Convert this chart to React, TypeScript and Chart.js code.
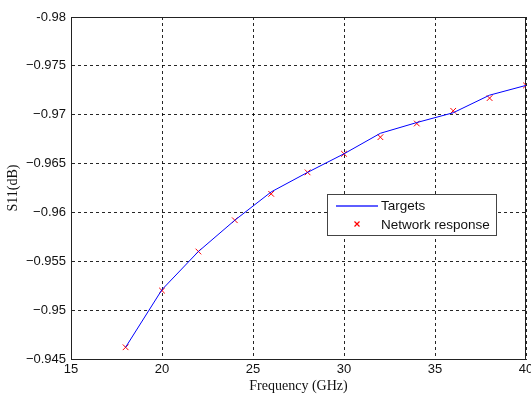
import React, { useEffect, useRef } from "react";
import { Chart, registerables } from "chart.js";

Chart.register(...registerables);

const freqs = [18, 20, 22, 24, 26, 28, 30, 32, 34, 36, 38, 40];
const targets = [-0.9462, -0.9521, -0.956, -0.9592, -0.9621, -0.9641, -0.966, -0.9681, -0.9692, -0.9702, -0.972, -0.973];
const network = [-0.9462, -0.952, -0.956, -0.9592, -0.9619, -0.9641, -0.966, -0.9677, -0.9691, -0.9704, -0.9717, -0.973];
const xTicks = [15, 20, 25, 30, 35, 40];
const yTicks = [-0.98, -0.975, -0.97, -0.965, -0.96, -0.955, -0.95, -0.945];
const yTickLabels = ["-0.98", "\u22120.975", "\u22120.97", "\u22120.965", "\u22120.96", "\u22120.955", "\u22120.95", "\u22120.945"];
const seriesNames = ["Targets", "Network response"];

const tickFont = { family: "'Liberation Sans', Arial, sans-serif", size: 13 };
const titleFont = { family: "'Liberation Serif', 'Times New Roman', serif", size: 14 };

const boxPlugin = {
  id: "boxAndLegend",
  beforeDatasetsDraw(chart: any) {
    const { ctx, chartArea: a } = chart;
    ctx.save();
    ctx.strokeStyle = "#222";
    ctx.lineWidth = 1;
    ctx.setLineDash([]);
    ctx.strokeRect(Math.round(a.left) + 0.5, Math.round(a.top) + 0.5, Math.round(a.right - a.left) - 1, Math.round(a.bottom - a.top));
    ctx.restore();
  },
  afterDatasetsDraw(chart: any) {
    const { ctx, chartArea: a } = chart;
    const x0 = Math.round(a.left) + 256;
    const y0 = Math.round(a.top) + 177;
    const w = 169;
    const h = 41;
    ctx.save();
    ctx.setLineDash([]);
    ctx.fillStyle = "#ffffff";
    ctx.fillRect(x0, y0, w, h);
    ctx.strokeStyle = "#444444";
    ctx.lineWidth = 1;
    ctx.strokeRect(x0 + 0.5, y0 + 0.5, w, h);
    ctx.beginPath();
    ctx.strokeStyle = "rgb(40,40,255)";
    ctx.lineWidth = 1.5;
    ctx.moveTo(x0 + 9, y0 + 12);
    ctx.lineTo(x0 + 51, y0 + 12);
    ctx.stroke();
    ctx.beginPath();
    ctx.strokeStyle = "#ff0000";
    ctx.lineWidth = 1.2;
    const cx = x0 + 30, cy = y0 + 30;
    ctx.moveTo(cx - 2.5, cy - 2.5);
    ctx.lineTo(cx + 2.5, cy + 2.5);
    ctx.moveTo(cx + 2.5, cy - 2.5);
    ctx.lineTo(cx - 2.5, cy + 2.5);
    ctx.stroke();
    ctx.fillStyle = "#111111";
    ctx.font = "13.5px 'Liberation Sans', Arial, sans-serif";
    ctx.textBaseline = "middle";
    ctx.textAlign = "left";
    ctx.fillText(seriesNames[0], x0 + 54, y0 + 12);
    ctx.fillText(seriesNames[1], x0 + 54, y0 + 31);
    ctx.restore();
  },
};

export default function App() {
  const ref = useRef<HTMLCanvasElement>(null);
  useEffect(() => {
    const chart = new Chart(ref.current!, {
      type: "scatter",
      data: {
        datasets: [
          {
            label: seriesNames[0],
            data: freqs.map((f, i) => ({ x: f, y: targets[i] })),
            showLine: true,
            borderColor: "#0000ff",
            borderWidth: 1,
            pointRadius: 0,
            tension: 0,
          },
          {
            label: seriesNames[1],
            data: freqs.map((f, i) => ({ x: f, y: network[i] })),
            showLine: false,
            pointStyle: "crossRot",
            pointRadius: 4,
            borderColor: "#ff0000",
            backgroundColor: "#ff0000",
            pointBorderWidth: 1,
          },
        ],
      },
      options: {
        responsive: false,
        animation: false,
        layout: { padding: { top: 17, right: 4, left: 0, bottom: 0 } },
        plugins: { legend: { display: false }, tooltip: { enabled: false } },
        scales: {
          x: {
            type: "linear",
            min: 15,
            max: 40,
            afterBuildTicks: (s: any) => {
              s.ticks = xTicks.map((v) => ({ value: v }));
            },
            afterFit: (s: any) => {
              s.height = 38;
              s.paddingLeft = 0;
              s.paddingRight = 0;
            },
            ticks: { color: "#111", font: tickFont, padding: 3, maxRotation: 0, autoSkip: false },
            grid: { color: "rgba(0,0,0,0.85)", drawTicks: false, lineWidth: 1 },
            border: { display: true, color: "#222", dash: [3, 3] },
            title: { display: true, text: "Frequency (GHz)", font: titleFont, color: "#111", padding: { top: 0, bottom: 2 } },
          },
          y: {
            type: "linear",
            min: -0.98,
            max: -0.945,
            reverse: true,
            afterBuildTicks: (s: any) => {
              s.ticks = yTicks.map((v) => ({ value: v }));
            },
            afterFit: (s: any) => {
              s.width = 71;
              s.paddingTop = 0;
              s.paddingBottom = 0;
            },
            ticks: {
              color: "#111",
              font: tickFont,
              padding: 5,
              autoSkip: false,
              callback: (_v: any, i: number) => yTickLabels[i],
            },
            grid: { color: "rgba(0,0,0,0.85)", drawTicks: false, lineWidth: 1 },
            border: { display: true, color: "#222", dash: [3, 3] },
            title: { display: true, text: "S11(dB)", font: titleFont, color: "#111", padding: { top: 5, bottom: 0 } },
          },
        },
      },
      plugins: [boxPlugin],
    } as any);
    return () => chart.destroy();
  }, []);
  return (
    <div style={{ position: "fixed", left: 0, top: 0, width: 531, height: 397, background: "#fff" }}>
      <canvas ref={ref} width={531} height={397} style={{ display: "block" }} />
    </div>
  );
}
